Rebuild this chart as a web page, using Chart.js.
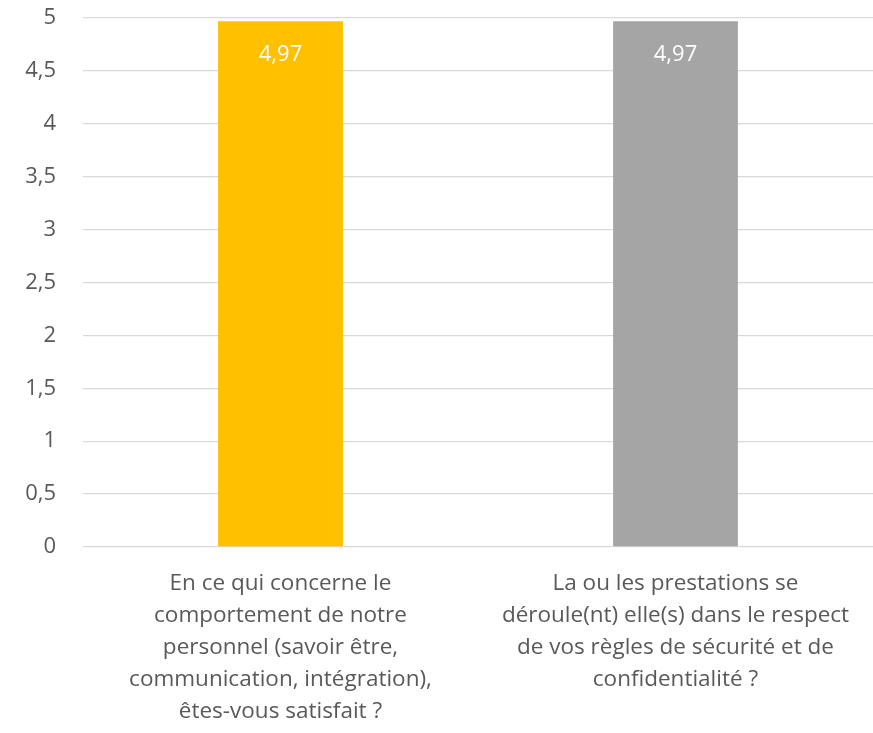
<!DOCTYPE html>
<html>
<head>
<meta charset="utf-8">
<script src="https://cdn.jsdelivr.net/npm/chart.js@4/dist/chart.umd.min.js"></script>
<style>
  html, body { margin: 0; padding: 0; background: #fff; }
  #wrap { width: 873px; height: 733px; }
</style>
</head>
<body>
<div id="wrap"><canvas id="chart" width="873" height="733"></canvas></div>
<script>
const categories = [
    ["En ce qui concerne le", "comportement de notre", "personnel (savoir être,", "communication, intégration),", "êtes-vous satisfait ?"],
    ["La ou les prestations se", "déroule(nt) elle(s) dans le respect", "de vos règles de sécurité et de", "confidentialité ?"]
];
const values = [4.97, 4.97];
const barColors = ["#FFC000", "#A5A5A5"];

const fmt = (v) => String(v).replace(".", ",");

// white value labels inside the top of each bar
const valueLabels = {
    id: "valueLabels",
    afterDatasetsDraw(chart) {
        const ctx = chart.ctx;
        const meta = chart.getDatasetMeta(0);
        ctx.save();
        ctx.fillStyle = "#FFFFFF";
        ctx.font = "22px 'Open Sans', sans-serif";
        ctx.textAlign = "center";
        ctx.textBaseline = "middle";
        meta.data.forEach((bar, i) => {
            ctx.fillText(fmt(values[i]), bar.x, bar.y + 34);
        });
        ctx.restore();
    }
};

new Chart(document.getElementById("chart"), {
    type: "bar",
    data: {
        labels: categories,
        datasets: [{
            data: values,
            backgroundColor: barColors,
            barPercentage: 1,
            categoryPercentage: 0.316
        }]
    },
    options: {
        responsive: false,
        animation: false,
        layout: { padding: { top: 18, right: 0, left: 0, bottom: 0 } },
        plugins: {
            legend: { display: false },
            tooltip: { enabled: false }
        },
        scales: {
            x: {
                grid: { display: false },
                border: { display: false },
                ticks: {
                    color: "#595959",
                    font: { family: "'Open Sans', sans-serif", size: 22.5, lineHeight: 1.42 },
                    maxRotation: 0,
                    autoSkip: false,
                    padding: 13
                },
                afterFit(scale) { scale.height = 186; }
            },
            y: {
                min: 0,
                max: 5,
                grid: { color: "#D9D9D9", lineWidth: 1.3, drawTicks: false },
                border: { display: false },
                ticks: {
                    stepSize: 0.5,
                    color: "#595959",
                    font: { family: "'Open Sans', sans-serif", size: 22 },
                    padding: 27,
                    callback: (v) => fmt(v)
                },
                afterFit(scale) {
                    scale.width = 83;
                    scale.paddingTop = 0;
                    scale.paddingBottom = 0;
                }
            }
        }
    },
    plugins: [valueLabels]
});
</script>
</body>
</html>
